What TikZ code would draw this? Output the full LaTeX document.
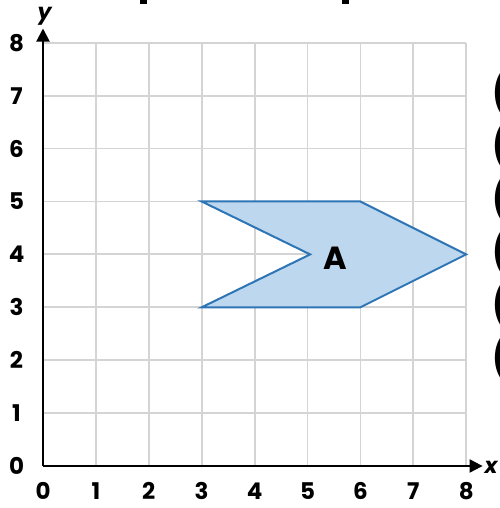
\documentclass[tikz,border=0pt]{standalone}
\usepackage{fontspec}
\setmainfont{Poppins}
\usetikzlibrary{arrows.meta}
\definecolor{gridgray}{RGB}{212,212,212}
\definecolor{shapefill}{RGB}{189,215,238}
\definecolor{shapeline}{RGB}{46,117,182}
\tikzset{
  gridline/.style={draw=gridgray, line width=1.8pt},
  axisline/.style={draw=black, line width=2pt, -{Triangle[length=13pt,width=13pt]}},
  ticklab/.style={font=\fontsize{23}{23}\selectfont\bfseries, inner sep=0pt},
  axlab/.style={font=\fontsize{22}{22}\selectfont\bfseries\itshape, inner sep=0pt},
  shapeA/.style={fill=shapefill, draw=shapeline, line width=2pt, line join=miter},
  paren/.style={font=\fontsize{44}{44}\selectfont\bfseries, inner sep=0pt, anchor=west},
}
\begin{document}
\begin{tikzpicture}[x=1pt,y=1pt]
\useasboundingbox (0,0) rectangle (499,508);
\fill[white] (0,0) rectangle (499,508);
% clipped title descenders
\fill[black] (140,504) rectangle (147,508);
\fill[black] (342,504) rectangle (349,508);
% right-hand column of clipped coordinate texts
\foreach \yy [count=\i] in {415,362,309,256,203,150}
  \node[paren] (p\i) at (491,\yy) {(};
\begin{scope}[shift={(43,42)}, x=52.9pt, y=52.9pt]
  \foreach \k in {1,...,8} {
    \draw[gridline] (\k,0) -- (\k,8);
    \draw[gridline] (0,\k) -- (8,\k);
  }
  \coordinate (O) at (0,0);
  \coordinate (xend) at (8.31,0);
  \coordinate (yend) at (0,8.27);
  \draw[axisline] (O) -- (xend);
  \draw[axisline] (O) -- (yend);
  \node[axlab] (xl) at (8.47,-0.03) {x};
  \node[axlab] (yl) at (0.03,8.5) {y};
  \foreach \k in {0,...,8} {
    \node[ticklab] (xt\k) at (\k,-0.47) {\k};
    \node[ticklab] (yt\k) at (-0.5,\k) {\k};
  }
  \coordinate (a1) at (3,5);
  \coordinate (a2) at (6,5);
  \coordinate (a3) at (8,4);
  \coordinate (a4) at (6,3);
  \coordinate (a5) at (3,3);
  \coordinate (a6) at (5.05,4);
  \draw[shapeA] (a1) -- (a2) -- (a3) -- (a4) -- (a5) -- (a6) -- cycle;
  \node[font=\fontsize{32}{32}\selectfont\bfseries, inner sep=0pt] (A) at (5.52,3.93) {A};
\end{scope}
\end{tikzpicture}
\end{document}
